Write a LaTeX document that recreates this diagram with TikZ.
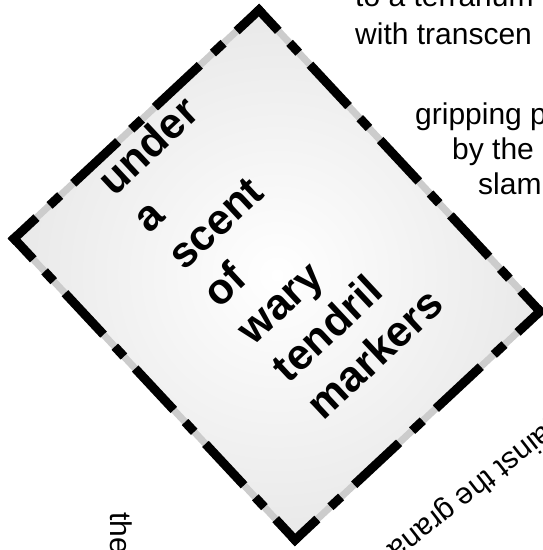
\documentclass[tikz,border=0pt]{standalone}
\usepackage{fontspec}
\setmainfont{Liberation Sans}

\pgfdeclareradialshading{boxglow}{\pgfpoint{0bp}{0bp}}{color(0bp)=(white); color(50bp)=(gray!35)}

\begin{document}
\begin{tikzpicture} [
	x=1pt, y=1pt, % one unit is one point
	edge/.style={line width=9pt, line cap=rect}, % the black part of the border
	shortedge/.style={edge, dash pattern=on 52.4pt off 26.9pt on 5.5pt off 26.9pt, dash phase=26.2pt},
	longedge/.style={edge, dash pattern=on 47.6pt off 25.5pt on 4.4pt off 25.5pt, dash phase=23.8pt},
	word/.style={font=\bfseries\fontsize{43}{51}\selectfont, inner sep=0pt, anchor=base west, transform shape},
	aside/.style={font=\fontsize{30}{36}\selectfont, inner sep=0pt, anchor=base west}, % text round the box
	]
	\useasboundingbox (0,0) rectangle (543,550);

	\begin{scope}[shift={(277,275)}, rotate=43]
		\coordinate (nw) at (-167.5,206);
		\coordinate (ne) at (167.5,206);
		\coordinate (se) at (167.5,-206);
		\coordinate (sw) at (-167.5,-206);
		\path[shading=boxglow] (-167.5,-206) rectangle (167.5,206);
		\draw[gray!40, line width=7pt, line join=miter] (-167.5,-206) rectangle (167.5,206);
		\draw[shortedge] (nw) -- (ne);
		\draw[longedge] (ne) -- (se);
		\draw[shortedge] (se) -- (sw);
		\draw[longedge] (sw) -- (nw);
		\foreach \w [count=\i] in {under, a, scent, of, wary, tendril, markers}
			\node[word] (w\i) at (-66, {168-51.2*(\i-1)}) {\w};
	\end{scope}

	\node[aside] (terr) at (355,543) {to a terrarium};
	\node[aside] (trans) at (355,505) {with transcen};
	\node[aside] (grip) at (415,425) {gripping p};
	\node[aside] (bythe) at (452,390) {by the};
	\node[aside] (slam) at (478,355) {slam};
	\node[aside, rotate=218] (against) at (569.6,146.1) {against the grana};
	\node[aside, rotate=-90] (the) at (110,38) {the};
\end{tikzpicture}
\end{document}
